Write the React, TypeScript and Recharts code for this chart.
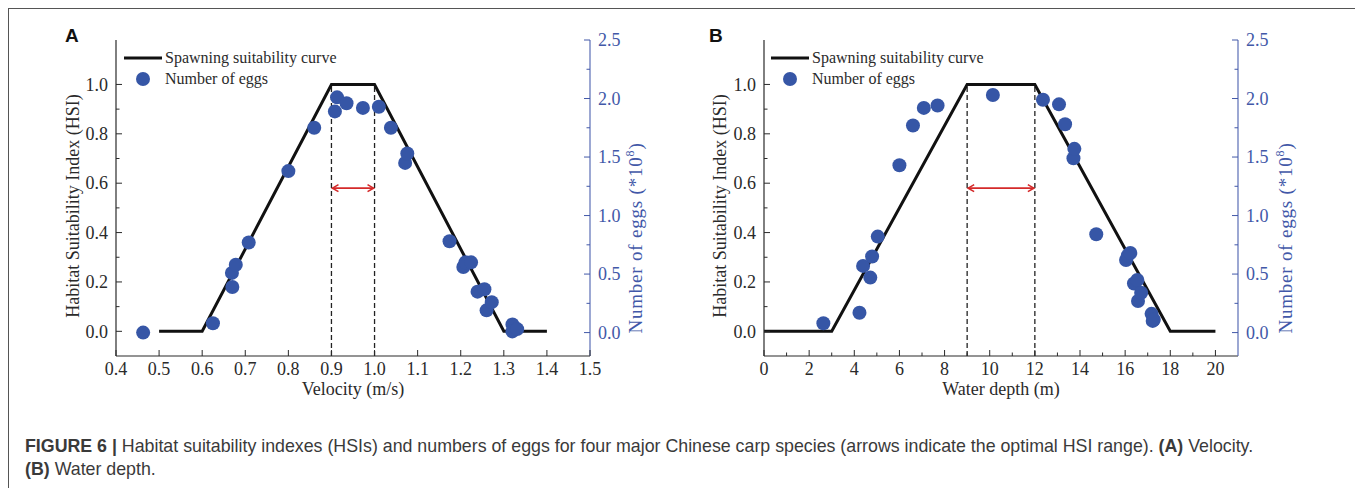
import React from "react";
import { ComposedChart, Line, Scatter, XAxis, YAxis, ReferenceLine } from "recharts";

// (A) velocity panel
const velCurveX = [0.5, 0.6, 0.9, 1.0, 1.3, 1.4];
const velCurveHsi = [0, 0, 1, 1, 0, 0];
const velEggX = [
  0.463, 0.625, 0.669, 0.67, 0.678, 0.708, 0.8, 0.86, 0.908, 0.913, 0.935, 0.973, 1.01,
  1.038, 1.071, 1.076, 1.174, 1.206, 1.211, 1.224, 1.239, 1.255, 1.26, 1.272, 1.32, 1.32, 1.331,
];
const velEggN = [
  0.0, 0.08, 0.51, 0.39, 0.58, 0.77, 1.38, 1.75, 1.89, 2.01, 1.96, 1.92, 1.93,
  1.75, 1.45, 1.53, 0.78, 0.56, 0.6, 0.6, 0.35, 0.37, 0.19, 0.26, 0.07, 0.01, 0.03,
];
const velTicks = [0.4, 0.5, 0.6, 0.7, 0.8, 0.9, 1.0, 1.1, 1.2, 1.3, 1.4, 1.5];

// (B) water depth panel
const depthCurveX = [0, 3, 9, 12, 18, 20];
const depthCurveHsi = [0, 0, 1, 1, 0, 0];
const depthEggX = [
  2.63, 4.23, 4.39, 4.71, 4.79, 5.04, 6.0, 6.6, 7.08, 7.69, 10.14, 12.36, 13.07, 13.34,
  13.71, 13.75, 14.72, 16.04, 16.12, 16.23, 16.39, 16.54, 16.57, 16.71, 17.17, 17.22, 17.27,
];
const depthEggN = [
  0.08, 0.17, 0.57, 0.47, 0.65, 0.82, 1.43, 1.77, 1.92, 1.94, 2.03, 1.99, 1.95, 1.78,
  1.49, 1.57, 0.84, 0.62, 0.66, 0.68, 0.42, 0.45, 0.27, 0.34, 0.16, 0.1, 0.11,
];
const depthTicks = [0, 2, 4, 6, 8, 10, 12, 14, 16, 18, 20];
const depthMinor = [1, 3, 5, 7, 9, 11, 13, 15, 17, 19];

const hsiTicks = [0, 0.1, 0.2, 0.3, 0.4, 0.5, 0.6, 0.7, 0.8, 0.9, 1.0];
const eggTicks = [0, 0.25, 0.5, 0.75, 1.0, 1.25, 1.5, 1.75, 2.0, 2.25, 2.5];

const SERIF = "'Liberation Serif', 'Times New Roman', serif";
const SANS = "'Liberation Sans', Arial, sans-serif";
const INK = "#2a2a2a";
const BLUE = "#4258a8";
const DOT = "#3656a6";
const RED = "#d42a2a";

const isMajor = (list: number[], v: number) => list.some((t) => Math.abs(t - v) < 1e-9);

function BottomTick(props: any) {
  const { x, y, payload, majors, digits } = props;
  const v = payload.value;
  const major = isMajor(majors, v);
  return (
    <g>
      <line x1={x} y1={y} x2={x} y2={y - (major ? 6 : 3.5)} stroke={INK} strokeWidth={1} />
      {major && (
        <text x={x} y={y + 19} textAnchor="middle" fontFamily={SERIF} fontSize={18} fill={INK}>
          {v.toFixed(digits)}
        </text>
      )}
    </g>
  );
}

function TopTick(props: any) {
  const { x, y } = props;
  return <line x1={x} y1={y} x2={x} y2={y + 6} stroke={INK} strokeWidth={1} />;
}

function LeftTick(props: any) {
  const { x, y, payload } = props;
  const v = payload.value;
  const major = Math.round(v * 10) % 2 === 0;
  return (
    <g>
      <line x1={x} y1={y} x2={x + (major ? 6 : 3.5)} y2={y} stroke={INK} strokeWidth={1} />
      {major && (
        <text x={x - 8} y={y} dy="0.35em" textAnchor="end" fontFamily={SERIF} fontSize={18} fill={INK}>
          {v.toFixed(1)}
        </text>
      )}
    </g>
  );
}

function RightTick(props: any) {
  const { x, y, payload } = props;
  const v = payload.value;
  const major = Math.abs(v * 2 - Math.round(v * 2)) < 1e-9;
  return (
    <g>
      <line x1={x} y1={y} x2={x - (major ? 6 : 3.5)} y2={y} stroke={BLUE} strokeWidth={1} />
      {major && (
        <text x={x + 8} y={y} dy="0.35em" textAnchor="start" fontFamily={SERIF} fontSize={18} fill={BLUE}>
          {v.toFixed(1)}
        </text>
      )}
    </g>
  );
}

function Arrow(props: any) {
  const { x1, y1, x2, y2 } = props;
  const h = 7;
  const w = 3.5;
  return (
    <g>
      <line x1={x1 + 1} y1={y1} x2={x2 - 1} y2={y2} stroke={RED} strokeWidth={1.6} />
      <polyline points={`${x1 + h},${y1 - w} ${x1 + 1},${y1} ${x1 + h},${y1 + w}`} fill="none" stroke={RED} strokeWidth={1.6} />
      <polyline points={`${x2 - h},${y2 - w} ${x2 - 1},${y2} ${x2 - h},${y2 + w}`} fill="none" stroke={RED} strokeWidth={1.6} />
    </g>
  );
}

const Dot = (p: any) => <circle cx={p.cx} cy={p.cy} r={7} fill={DOT} />;

type PanelProps = {
  left: number;
  width: number;
  yLeftW: number;
  yRightW: number;
  domain: [number, number];
  ticks: number[];
  majors: number[];
  digits: number;
  curveX: number[];
  curveHsi: number[];
  eggX: number[];
  eggN: number[];
  optLo: number;
  optHi: number;
};

function Panel(p: PanelProps) {
  const curve = p.curveX.map((x, i) => ({ x, hsi: p.curveHsi[i] }));
  const eggs = p.eggX.map((x, i) => ({ x, eggs: p.eggN[i] }));
  return (
    <div style={{ position: "absolute", left: p.left, top: 0 }}>
      <ComposedChart width={p.width} height={400} margin={{ top: 40, right: 0, bottom: 0, left: 0 }}>
        <XAxis
          xAxisId="b"
          dataKey="x"
          type="number"
          domain={p.domain}
          allowDataOverflow
          ticks={p.ticks}
          interval={0}
          height={44}
          tickSize={0}
          tickMargin={0}
          tickLine={false}
          axisLine={{ stroke: INK, strokeWidth: 1.2 }}
          tick={(t: any) => <BottomTick {...t} majors={p.majors} digits={p.digits} />}
        />
        <XAxis
          xAxisId="t"
          orientation="top"
          dataKey="x"
          type="number"
          domain={p.domain}
          allowDataOverflow
          ticks={p.majors}
          interval={0}
          height={0}
          tickSize={0}
          tickMargin={0}
          tickLine={false}
          axisLine={{ stroke: "#666", strokeWidth: 1.2 }}
          tick={(t: any) => <TopTick {...t} />}
        />
        <YAxis
          yAxisId="l"
          type="number"
          domain={[-0.1, 1.18]}
          allowDataOverflow
          ticks={hsiTicks}
          interval={0}
          width={p.yLeftW}
          tickSize={0}
          tickMargin={0}
          tickLine={false}
          axisLine={{ stroke: INK, strokeWidth: 1.2 }}
          tick={(t: any) => <LeftTick {...t} />}
        />
        <YAxis
          yAxisId="r"
          orientation="right"
          type="number"
          domain={[-0.2, 2.5]}
          allowDataOverflow
          ticks={eggTicks}
          interval={0}
          width={p.yRightW}
          tickSize={0}
          tickMargin={0}
          tickLine={false}
          axisLine={{ stroke: "#5a6db5", strokeWidth: 1.2 }}
          tick={(t: any) => <RightTick {...t} />}
        />
        <ReferenceLine
          xAxisId="b"
          yAxisId="l"
          segment={[{ x: p.optLo, y: -0.1 }, { x: p.optLo, y: 1 }]}
          stroke="#222"
          strokeWidth={1.3}
          strokeDasharray="5 3"
        />
        <ReferenceLine
          xAxisId="b"
          yAxisId="l"
          segment={[{ x: p.optHi, y: -0.1 }, { x: p.optHi, y: 1 }]}
          stroke="#222"
          strokeWidth={1.3}
          strokeDasharray="5 3"
        />
        <ReferenceLine
          xAxisId="b"
          yAxisId="l"
          segment={[{ x: p.optLo, y: 0.58 }, { x: p.optHi, y: 0.58 }]}
          shape={(s: any) => <Arrow {...s} />}
        />
        <Line
          xAxisId="b"
          yAxisId="l"
          data={curve}
          dataKey="hsi"
          type="linear"
          stroke="#111"
          strokeWidth={3}
          dot={false}
          activeDot={false}
          isAnimationActive={false}
        />
        <Scatter
          xAxisId="b"
          yAxisId="r"
          data={eggs}
          dataKey="eggs"
          shape={Dot}
          isAnimationActive={false}
        />
      </ComposedChart>
    </div>
  );
}

const abs = (left: number, top: number, extra: React.CSSProperties = {}): React.CSSProperties => ({
  position: "absolute",
  left,
  top,
  whiteSpace: "nowrap",
  ...extra,
});

function Legend({ x }: { x: number }) {
  return (
    <>
      <svg style={abs(x, 48)} width={40} height={40}>
        <line x1={0} y1={10} x2={38} y2={10} stroke="#111" strokeWidth={3} />
        <circle cx={19} cy={31} r={7} fill={DOT} />
      </svg>
      <div style={abs(x + 41, 48, { fontFamily: SERIF, fontSize: 16, lineHeight: "20px", color: INK })}>
        Spawning suitability curve
      </div>
      <div style={abs(x + 41, 69, { fontFamily: SERIF, fontSize: 16, lineHeight: "20px", color: INK })}>
        Number of eggs
      </div>
    </>
  );
}

function VTitle({ cx, cy, color, size = 18, spacing = 0, children }: { cx: number; cy: number; color: string; size?: number; spacing?: number; children: React.ReactNode }) {
  return (
    <div
      style={abs(cx, cy, {
        transform: "translate(-50%, -50%) rotate(-90deg)",
        fontFamily: SERIF,
        fontSize: size,
        lineHeight: "20px",
        letterSpacing: spacing,
        color,
      })}
    >
      {children}
    </div>
  );
}

export default function App() {
  return (
    <div style={{ position: "absolute", left: 0, top: 0, width: 1355, height: 488, background: "#fff", overflow: "hidden" }}>
      <div style={abs(8, 8, { width: 1347, height: 480, borderTop: "1.3px solid #555", borderLeft: "1.3px solid #555" })} />

      <Panel
        left={0}
        width={680}
        yLeftW={116}
        yRightW={90}
        domain={[0.4, 1.5]}
        ticks={velTicks}
        majors={velTicks}
        digits={1}
        curveX={velCurveX}
        curveHsi={velCurveHsi}
        eggX={velEggX}
        eggN={velEggN}
        optLo={0.9}
        optHi={1.0}
      />
      <Panel
        left={680}
        width={675}
        yLeftW={84}
        yRightW={117}
        domain={[0, 21]}
        ticks={[...depthTicks, ...depthMinor].sort((a, b) => a - b)}
        majors={depthTicks}
        digits={0}
        curveX={depthCurveX}
        curveHsi={depthCurveHsi}
        eggX={depthEggX}
        eggN={depthEggN}
        optLo={9}
        optHi={12}
      />

      <div style={abs(65, 25, { fontFamily: SANS, fontWeight: "bold", fontSize: 19, color: "#111" })}>A</div>
      <div style={abs(709, 25, { fontFamily: SANS, fontWeight: "bold", fontSize: 19, color: "#111" })}>B</div>

      <Legend x={124} />
      <Legend x={771} />

      <div style={abs(353, 380, { transform: "translateX(-50%)", fontFamily: SERIF, fontSize: 18, lineHeight: "18px", color: INK })}>
        Velocity (m/s)
      </div>
      <div style={abs(1001, 380, { transform: "translateX(-50%)", fontFamily: SERIF, fontSize: 18, lineHeight: "18px", color: INK })}>
        Water depth (m)
      </div>

      <VTitle cx={73} cy={206} color={INK}>Habitat Suitability Index (HSI)</VTitle>
      <VTitle cx={720} cy={206} color={INK}>Habitat Suitability Index (HSI)</VTitle>
      <VTitle cx={633} cy={238} color={BLUE} size={19} spacing={0.8}>
        Number of eggs (*10<sup style={{ fontSize: 12 }}>8</sup>)
      </VTitle>
      <VTitle cx={1283} cy={238} color={BLUE} size={19} spacing={0.8}>
        Number of eggs (*10<sup style={{ fontSize: 12 }}>8</sup>)
      </VTitle>

      <div style={abs(25, 435, { fontFamily: SANS, fontSize: 17.8, lineHeight: "23px", color: "#3a3a3a" })}>
        <b>FIGURE 6 |</b> Habitat suitability indexes (HSIs) and numbers of eggs for four major Chinese carp species
        (arrows indicate the optimal HSI range). <b>(A)</b> Velocity.
        <br />
        <b>(B)</b> Water depth.
      </div>
    </div>
  );
}
